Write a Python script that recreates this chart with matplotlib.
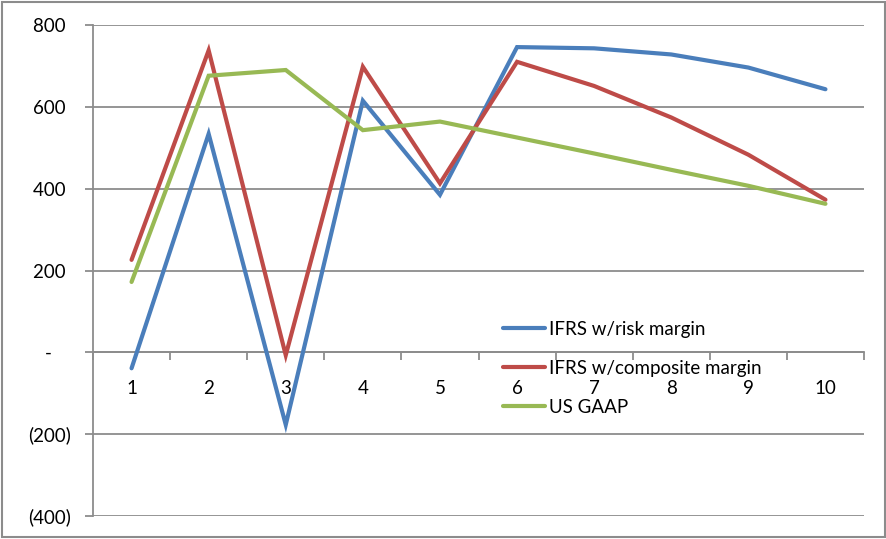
import matplotlib.pyplot as plt
from matplotlib.ticker import FixedLocator, FuncFormatter
from matplotlib.patches import Rectangle

plt.rcParams['font.family'] = ['Lato', 'DejaVu Sans']

years = ['1', '2', '3', '4', '5', '6', '7', '8', '9', '10']
ifrs_risk = [-39, 534, -177, 615, 385, 746, 743, 728, 696, 643]
ifrs_composite = [226, 738, -7, 698, 413, 710, 651, 574, 483, 373]
us_gaap = [172, 676, 690, 543, 564, 525, 486, 446, 407, 363]
series_names = ['IFRS w/risk margin', 'IFRS w/composite margin', 'US GAAP']
colors = ['#4A7EBB', '#BE4B48', '#98B954']

fig = plt.figure(figsize=(8.87, 5.39), dpi=100)
ax = fig.add_axes([93 / 887, 1 - 516 / 539, 771 / 887, 491 / 539])

x = list(range(len(years)))
for vals, name, c in zip([ifrs_risk, ifrs_composite, us_gaap], series_names, colors):
    ax.plot(x, vals, color=c, lw=3, label=name, solid_capstyle='round', solid_joinstyle='miter', zorder=3)

ax.set_xlim(-0.5, len(years) - 0.5)
ax.set_ylim(-400, 800)

grid_c = '#8C8C8C'
fs = 13.5
ax.yaxis.set_major_locator(FixedLocator(range(-400, 801, 200)))


def acct(v, pos):
    # accounting style: dash for zero, brackets for negatives
    if v == 0:
        return '-    '
    if v < 0:
        return '({:,.0f})'.format(-v)
    return '{:,.0f} '.format(v)


ax.yaxis.set_major_formatter(FuncFormatter(acct))
ax.grid(axis='y', color=grid_c, lw=1.3, zorder=1)
ax.tick_params(axis='y', length=6, width=1.3, color=grid_c, labelsize=fs, pad=10, direction='out')

ax.set_xticks(x)
ax.set_xticklabels(years)
ax.set_xticks([i + 0.5 for i in range(-1, len(years))], minor=True)
ax.tick_params(axis='x', which='major', length=0, labelsize=fs, pad=20)
ax.tick_params(axis='x', which='minor', length=6, width=1.3, color=grid_c, direction='out')

for s in ['top', 'right']:
    ax.spines[s].set_visible(False)
ax.spines['left'].set_color(grid_c)
ax.spines['left'].set_linewidth(1.3)
ax.spines['bottom'].set_position(('data', 0))
ax.spines['bottom'].set_color(grid_c)
ax.spines['bottom'].set_linewidth(1.3)
ax.spines['bottom'].set_zorder(2)

leg = ax.legend(loc='upper left', bbox_to_anchor=(503 / 887, 1 - 321 / 539),
                bbox_transform=fig.transFigure, frameon=False, fontsize=fs,
                handlelength=2.25, handletextpad=0.2, labelspacing=1.17,
                borderpad=0, borderaxespad=0)

fig.patches.append(Rectangle((0.002, 0.003), 0.996, 0.994, transform=fig.transFigure,
                             fill=False, edgecolor='#8C8C8C', lw=1.5))

fig.savefig('out.png', dpi=100)
